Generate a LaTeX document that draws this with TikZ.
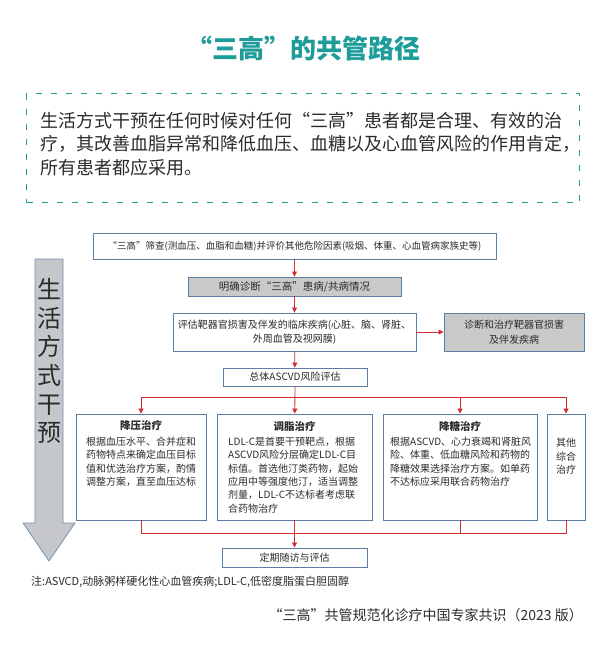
\documentclass[tikz,border=0pt]{standalone}
\usepackage{fontspec}
\setmainfont{Noto Sans CJK SC}
\usetikzlibrary{arrows.meta}
\definecolor{teal1}{HTML}{1E9C99}
\definecolor{frame}{HTML}{5B7EA5}
\definecolor{boxgray}{HTML}{C9C9C9}
\definecolor{flowred}{HTML}{D22B30}
\definecolor{ink}{HTML}{2B2B2B}
\definecolor{arrowgray}{HTML}{C5C7CA}
\definecolor{arrowline}{HTML}{7591B2}

\begin{document}
\begin{tikzpicture}
  [
    x=1pt,y=-1pt,
    plain/.style={rectangle,draw=frame,fill=white,line width=0.9pt,inner sep=0pt,text=ink,align=center,font=\fontsize{10}{14.5}\selectfont},
    shade/.style={plain,fill=boxgray},
    head/.style={inner sep=0pt,text=ink,font=\fontsize{10.5}{13}\selectfont\bfseries},
    body/.style={inner sep=0pt,text=ink,align=left,anchor=north west,font=\fontsize{10}{13.3}\selectfont},
    flow/.style={draw=flowred,line width=0.8pt,-{Triangle[length=5pt,width=5pt]}},
    link/.style={draw=flowred,line width=0.8pt},
  ]
  \useasboundingbox (0,0) rectangle (600,652);

  % heading and the note on lifestyle
  \node (title) at (303,48) [text=teal1,font=\fontsize{26}{30}\selectfont\bfseries] {“三高”的共管路径};
  \node (intro) at (26,93) [draw=teal1,line width=1.4pt,dash pattern=on 6pt off 9pt,
    anchor=north west,minimum width=553,minimum height=109] {};
  \node (introT) at (40,144) [anchor=west,inner sep=0pt,align=left,text=ink,
    font=\fontsize{18}{23.5}\selectfont] {生活方式干预在任何时候对任何“三高”患者都是合理、有效的治\\
    疗，其改善血脂异常和降低血压、血糖以及心血管风险的作用肯定，\\
    所有患者都应采用。};

  % big arrow on the left
  \draw [fill=arrowgray,draw=arrowline,line width=0.8pt]
    (35,259) -- (63,259) -- (63,523) -- (75,523) -- (49,561) -- (23,523) -- (35,523) -- cycle;
  \node (life) at (49,361) [inner sep=0pt,align=center,text=ink,
    font=\fontsize{24}{28.6}\selectfont] {生\\活\\方\\式\\干\\预};

  % upper chain
  \node (screen) at (294.5,246) [plain,minimum width=403,minimum height=26,font=\fontsize{9.5}{12}\selectfont]
    {“三高”筛查(测血压、血脂和血糖)并评价其他危险因素(吸烟、体重、心血管病家族史等)};
  \node (diag) at (294.5,286.5) [shade,minimum width=213,minimum height=19,font=\fontsize{10.5}{13}\selectfont]
    {明确诊断“三高”患病/共病情况};
  \node (organ) at (294.5,332) [plain,minimum width=243,minimum height=38]
    {评估靶器官损害及伴发的临床疾病(心脏、脑、肾脏、\\外周血管及视网膜)};
  \node (treat) at (514,332) [shade,minimum width=140,minimum height=38]
    {诊断和治疗靶器官损害\\及伴发疾病};
  \node (risk) at (295,377) [plain,minimum width=144,minimum height=18]
    {总体ASCVD风险评估};

  % four treatment boxes
  \node (bp) at (141,467) [plain,minimum width=130,minimum height=106] {};
  \node (lipid) at (294.5,467) [plain,minimum width=155,minimum height=106] {};
  \node (glu) at (460,467) [plain,minimum width=154,minimum height=106] {};
  \node (other) at (566,467) [plain,minimum width=38,minimum height=106] {};

  \node (bpT) at (141,426) [head] {降压治疗};
  \node (bpB) at (86,437) [body] {根据血压水平、合并症和\\药物特点来确定血压目标\\
    值和优选治疗方案，酌情\\调整方案，直至血压达标};
  \node (lipidT) at (294.5,426) [head] {调脂治疗};
  \node (lipidB) at (228,437) [body] {LDL-C是首要干预靶点，根据\\ASCVD风险分层确定LDL-C目\\
    标值。首选他汀类药物，起始\\应用中等强度他汀，适当调整\\剂量，LDL-C不达标者考虑联\\合药物治疗};
  \node (gluT) at (460,426) [head] {降糖治疗};
  \node (gluB) at (390,437) [body] {根据ASCVD、心力衰竭和肾脏风\\险、体重、低血糖风险和药物的\\
    降糖效果选择治疗方案。如单药\\不达标应采用联合药物治疗};
  \node (otherT) at (566,456.5) [inner sep=0pt,align=center,text=ink,
    font=\fontsize{10}{13.5}\selectfont] {其他\\综合\\治疗};

  \node (follow) at (294.5,557.5) [plain,minimum width=145,minimum height=19] {定期随访与评估};

  % connectors
  \coordinate (split) at (294.5,397);
  \coordinate (join) at (294.5,533);
  \draw [flow] (screen) -- (diag);
  \draw [flow] (diag) -- (organ);
  \draw [flow] (organ) -- (treat);
  \draw [flow] (organ) -- (risk);
  \draw [flow] (risk) -- (lipid);
  \draw [link] (split -| bp) -- (split -| other);
  \draw [flow] (split -| bp) -- (bp);
  \draw [flow] (split -| glu) -- (glu);
  \draw [flow] (split -| other) -- (other);
  \draw [link] (bp.south) -- (join -| bp) -- (join -| other) -- (other.south);
  \draw [link] (glu.south) -- (join -| glu);
  \draw [flow] (lipid) -- (follow);

  % footnotes
  \node (note) at (31,582) [anchor=west,inner sep=0pt,text=ink,font=\fontsize{11}{13}\selectfont]
    {注:ASVCD,动脉粥样硬化性心血管疾病;LDL-C,低密度脂蛋白胆固醇};
  \node (source) at (583,615) [anchor=east,inner sep=0pt,text=ink,font=\fontsize{14}{16}\selectfont]
    {“三高”共管规范化诊疗中国专家共识（2023 版）};
\end{tikzpicture}
\end{document}
